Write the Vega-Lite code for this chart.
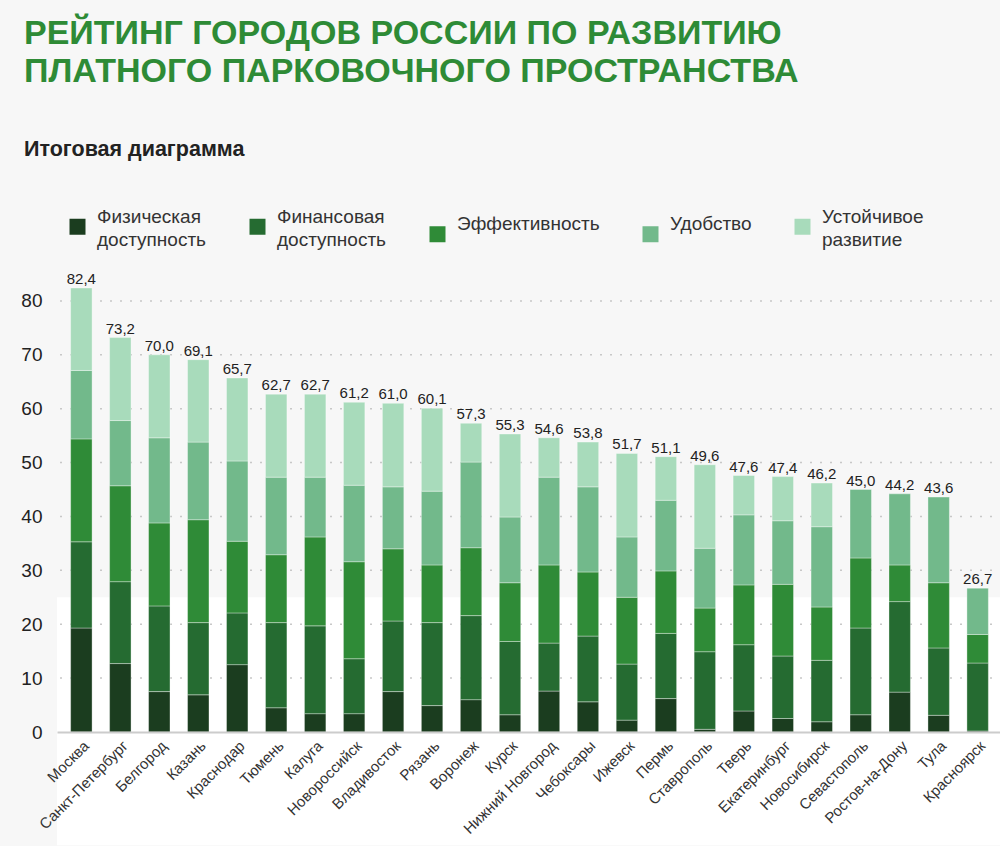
{
  "$schema": "https://vega.github.io/schema/vega-lite/v6.json",
  "width": 945,
  "height": 458,
  "padding": {"left": 20, "top": 16, "right": 0, "bottom": 0},
  "background": "#f7f7f7",
  "title": {
    "text": ["РЕЙТИНГ ГОРОДОВ РОССИИ ПО РАЗВИТИЮ", "ПЛАТНОГО ПАРКОВОЧНОГО ПРОСТРАНСТВА"],
    "subtitle": "Итоговая диаграмма",
    "anchor": "start",
    "frame": "group",
    "dx": -33,
    "font": "Liberation Sans",
    "fontSize": 34,
    "fontWeight": "bold",
    "color": "#2e8b36",
    "lineHeight": 38,
    "subtitleFont": "Liberation Sans",
    "subtitleFontSize": 21.5,
    "subtitleFontWeight": "bold",
    "subtitleColor": "#222222",
    "subtitlePadding": 50,
    "offset": 57
  },
  "data": {
    "values": [
      {"city": "Москва", "Физическая доступность": 19.3, "Финансовая доступность": 16.0, "Эффективность": 19.1, "Удобство": 12.7, "Устойчивое развитие": 15.3},
      {"city": "Санкт-Петербург", "Физическая доступность": 12.7, "Финансовая доступность": 15.2, "Эффективность": 17.8, "Удобство": 12.1, "Устойчивое развитие": 15.4},
      {"city": "Белгород", "Физическая доступность": 7.5, "Финансовая доступность": 15.9, "Эффективность": 15.4, "Удобство": 15.8, "Устойчивое развитие": 15.4},
      {"city": "Казань", "Физическая доступность": 6.9, "Финансовая доступность": 13.4, "Эффективность": 19.1, "Удобство": 14.4, "Устойчивое развитие": 15.3},
      {"city": "Краснодар", "Физическая доступность": 12.5, "Финансовая доступность": 9.6, "Эффективность": 13.3, "Удобство": 14.9, "Устойчивое развитие": 15.4},
      {"city": "Тюмень", "Физическая доступность": 4.5, "Финансовая доступность": 15.8, "Эффективность": 12.6, "Удобство": 14.4, "Устойчивое развитие": 15.4},
      {"city": "Калуга", "Физическая доступность": 3.4, "Финансовая доступность": 16.3, "Эффективность": 16.5, "Удобство": 11.1, "Устойчивое развитие": 15.4},
      {"city": "Новороссийск", "Физическая доступность": 3.4, "Финансовая доступность": 10.2, "Эффективность": 18.0, "Удобство": 14.2, "Устойчивое развитие": 15.4},
      {"city": "Владивосток", "Физическая доступность": 7.5, "Финансовая доступность": 13.1, "Эффективность": 13.4, "Удобство": 11.5, "Устойчивое развитие": 15.5},
      {"city": "Рязань", "Физическая доступность": 4.9, "Финансовая доступность": 15.4, "Эффективность": 10.7, "Удобство": 13.7, "Устойчивое развитие": 15.4},
      {"city": "Воронеж", "Физическая доступность": 6.0, "Финансовая доступность": 15.6, "Эффективность": 12.6, "Удобство": 15.9, "Устойчивое развитие": 7.2},
      {"city": "Курск", "Физическая доступность": 3.2, "Финансовая доступность": 13.6, "Эффективность": 10.9, "Удобство": 12.2, "Устойчивое развитие": 15.4},
      {"city": "Нижний Новгород", "Физическая доступность": 7.6, "Финансовая доступность": 8.9, "Эффективность": 14.5, "Удобство": 16.3, "Устойчивое развитие": 7.3},
      {"city": "Чебоксары", "Физическая доступность": 5.6, "Финансовая доступность": 12.2, "Эффективность": 11.9, "Удобство": 15.8, "Устойчивое развитие": 8.3},
      {"city": "Ижевск", "Физическая доступность": 2.2, "Финансовая доступность": 10.4, "Эффективность": 12.4, "Удобство": 11.2, "Устойчивое развитие": 15.5},
      {"city": "Пермь", "Физическая доступность": 6.2, "Финансовая доступность": 12.1, "Эффективность": 11.6, "Удобство": 13.1, "Устойчивое развитие": 8.1},
      {"city": "Ставрополь", "Физическая доступность": 0.5, "Финансовая доступность": 14.4, "Эффективность": 8.1, "Удобство": 11.1, "Устойчивое развитие": 15.5},
      {"city": "Тверь", "Физическая доступность": 3.9, "Финансовая доступность": 12.3, "Эффективность": 11.1, "Удобство": 13.0, "Устойчивое развитие": 7.3},
      {"city": "Екатеринбург", "Физическая доступность": 2.5, "Финансовая доступность": 11.6, "Эффективность": 13.3, "Удобство": 11.8, "Устойчивое развитие": 8.2},
      {"city": "Новосибирск", "Физическая доступность": 1.9, "Финансовая доступность": 11.4, "Эффективность": 9.9, "Удобство": 14.9, "Устойчивое развитие": 8.1},
      {"city": "Севастополь", "Физическая доступность": 3.2, "Финансовая доступность": 16.1, "Эффективность": 13.0, "Удобство": 12.7, "Устойчивое развитие": 0},
      {"city": "Ростов-на-Дону", "Физическая доступность": 7.4, "Финансовая доступность": 16.8, "Эффективность": 6.8, "Удобство": 13.2, "Устойчивое развитие": 0},
      {"city": "Тула", "Физическая доступность": 3.1, "Финансовая доступность": 12.5, "Эффективность": 12.1, "Удобство": 15.9, "Устойчивое развитие": 0},
      {"city": "Красноярск", "Физическая доступность": 0.2, "Финансовая доступность": 12.6, "Эффективность": 5.3, "Удобство": 8.6, "Устойчивое развитие": 0}
    ]
  },
  "layer": [
    {
      "data": {"values": [{"band": "white"}]},
      "mark": {"type": "rect", "color": "#ffffff"},
      "encoding": {
        "y": {"datum": 25, "type": "quantitative", "scale": {"domain": [0, 85], "nice": false, "zero": true}},
        "y2": {"datum": -21}
      }
    },
    {
      "data": {"values": [{"g": 10}, {"g": 20}, {"g": 30}, {"g": 40}, {"g": 50}, {"g": 60}, {"g": 70}, {"g": 80}]},
      "mark": {"type": "rule", "color": "#c8c8c8", "strokeDash": [2, 8], "strokeWidth": 1.5},
      "encoding": {
        "y": {"field": "g", "type": "quantitative", "scale": {"domain": [0, 85], "nice": false}}
      }
    },
    {
      "transform": [
        {"fold": ["Физическая доступность", "Финансовая доступность", "Эффективность", "Удобство", "Устойчивое развитие"], "as": ["cat", "val"]},
        {"filter": "datum.val > 0"},
        {"calculate": "indexof(['Физическая доступность', 'Финансовая доступность', 'Эффективность', 'Удобство', 'Устойчивое развитие'], datum.cat)", "as": "o"}
      ],
      "mark": {"type": "bar", "stroke": "#ffffff", "strokeOpacity": 0.35, "strokeWidth": 1},
      "encoding": {
        "x": {
          "field": "city", "type": "nominal", "sort": null,
          "axis": {
            "zindex": 1,
            "title": null,
            "labelAngle": -45,
            "labelFont": "Liberation Sans",
            "labelFontSize": 15,
            "labelColor": "#333333",
            "domainColor": "#cccccc",
            "domainWidth": 2,
            "ticks": false,
            "labelPadding": 6
          }
        },
        "y": {"field": "val", "type": "quantitative", "stack": "zero", "scale": {"domain": [0, 85], "nice": false}},
        "color": {
          "field": "cat",
          "type": "nominal",
          "scale": {
            "domain": ["Физическая доступность", "Финансовая доступность", "Эффективность", "Удобство", "Устойчивое развитие"],
            "range": ["#1b3d1f", "#256b31", "#2f8b37", "#72b98b", "#a8dbbb"]
          },
          "legend": {
            "orient": "none",
            "legendX": 11,
            "legendY": -57,
            "direction": "horizontal",
            "title": null,
            "symbolType": "square",
            "symbolSize": 256,
            "symbolStrokeWidth": 0,
            "labelFont": "Liberation Sans",
            "labelFontSize": 19,
            "labelColor": "#333333",
            "labelOffset": 10,
            "labelLimit": 300,
            "labelBaseline": "bottom",
            "columnPadding": 41,
            "labelExpr": "split(datum.label, ' ')"
          }
        },
        "order": {"field": "o", "type": "quantitative", "sort": "ascending"}
      }
    },
    {
      "transform": [
        {"fold": ["Физическая доступность", "Финансовая доступность", "Эффективность", "Удобство", "Устойчивое развитие"], "as": ["cat", "val"]},
        {"aggregate": [{"op": "sum", "field": "val", "as": "total"}], "groupby": ["city"]},
        {"calculate": "replace(format(datum.total, '.1f'), '.', ',')", "as": "lbl"}
      ],
      "mark": {"type": "text", "baseline": "alphabetic", "dy": -4, "font": "Liberation Sans", "fontSize": 15, "color": "#222222"},
      "encoding": {
        "x": {"field": "city", "type": "nominal", "sort": null},
        "y": {"field": "total", "type": "quantitative", "scale": {"domain": [0, 85], "nice": false}},
        "text": {"field": "lbl", "type": "nominal"}
      }
    }
  ],
  "resolve": {"scale": {"y": "shared"}},
  "config": {
    "view": {"stroke": null},
    "font": "Liberation Sans",
    "style": {"guide-label": {"lineHeight": 23}},
    "scale": {"bandPaddingInner": 0.45, "bandPaddingOuter": 0.35},
    "axisY": {
      "title": null,
      "domain": false,
      "ticks": false,
      "grid": false,
      "values": [0, 10, 20, 30, 40, 50, 60, 70, 80],
      "labelFont": "Liberation Sans",
      "labelFontSize": 19,
      "labelColor": "#222222",
      "labelPadding": 15
    }
  }
}
